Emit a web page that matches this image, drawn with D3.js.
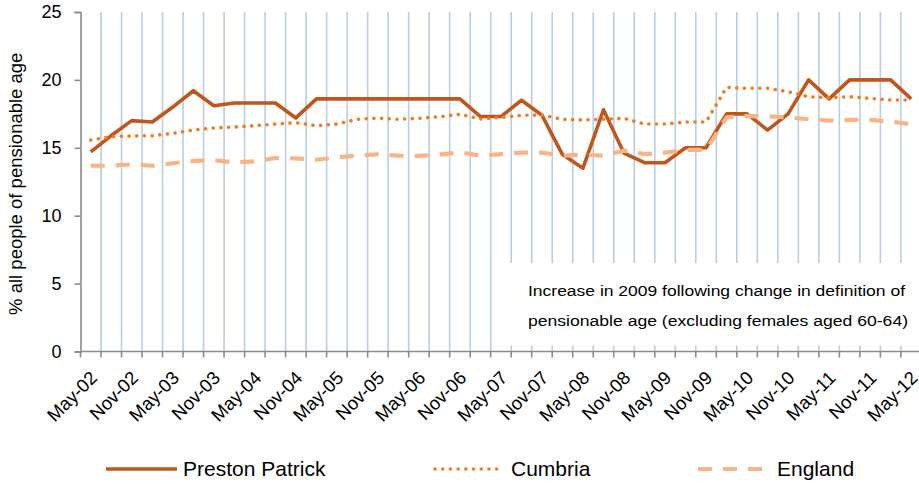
<!DOCTYPE html>
<html>
<head>
<meta charset="utf-8">
<script src="https://cdn.jsdelivr.net/npm/d3@7"></script>
<style>
  html, body { margin: 0; padding: 0; background: #fff; }
  svg { display: block; font-family: "Liberation Sans", Arial, sans-serif; }
</style>
</head>
<body>
<svg id="chart" width="919" height="484"></svg>
<script>
// ---- data ----
const categories = [
  "May-02","Aug-02","Nov-02",
  "Feb-03","May-03","Aug-03","Nov-03",
  "Feb-04","May-04","Aug-04","Nov-04",
  "Feb-05","May-05","Aug-05","Nov-05",
  "Feb-06","May-06","Aug-06","Nov-06",
  "Feb-07","May-07","Aug-07","Nov-07",
  "Feb-08","May-08","Aug-08","Nov-08",
  "Feb-09","May-09","Aug-09","Nov-09",
  "Feb-10","May-10","Aug-10","Nov-10",
  "Feb-11","May-11","Aug-11","Nov-11",
  "Feb-12","May-12"
];
const tickLabels = ["May-02","Nov-02","May-03","Nov-03","May-04","Nov-04","May-05","Nov-05",
  "May-06","Nov-06","May-07","Nov-07","May-08","Nov-08","May-09","Nov-09","May-10","Nov-10",
  "May-11","Nov-11","May-12"];
const prestonPatrick = [14.7, 15.9, 17.0, 16.9, 18.0, 19.2, 18.1, 18.3, 18.3, 18.3, 17.2,
  18.6, 18.6, 18.6, 18.6, 18.6, 18.6, 18.6, 18.6, 17.3, 17.3, 18.5, 17.4, 14.5, 13.5, 17.8,
  14.6, 13.9, 13.9, 15.0, 15.0, 17.5, 17.5, 16.3, 17.5, 20.0, 18.6, 20.0, 20.0, 20.0, 18.6];
const cumbria = [15.57, 15.82, 15.87, 15.89, 16.07, 16.31, 16.46, 16.53, 16.63, 16.75, 16.85,
  16.63, 16.75, 17.1, 17.19, 17.1, 17.17, 17.29, 17.47, 17.12, 17.24, 17.39, 17.41, 17.1,
  17.05, 17.1, 17.17, 16.75, 16.75, 16.9, 16.9, 19.45, 19.38, 19.38, 19.13, 18.76, 18.69,
  18.76, 18.64, 18.52, 18.52];
const england = [13.68, 13.68, 13.78, 13.68, 13.86, 14.03, 14.08, 13.93, 14.0, 14.25, 14.22,
  14.12, 14.3, 14.42, 14.52, 14.42, 14.4, 14.49, 14.67, 14.42, 14.54, 14.64, 14.64, 14.42,
  14.49, 14.42, 14.79, 14.54, 14.64, 14.84, 14.84, 17.24, 17.34, 17.32, 17.24, 17.1, 17.0,
  17.05, 17.05, 16.92, 16.75];
const yTicks = [0, 5, 10, 15, 20, 25];
const seriesNames = ["Preston Patrick", "Cumbria", "England"];
const yTitle = "% all people of pensionable age";
const noteLines = ["Increase in 2009 following change in definition of",
  "pensionable age (excluding females aged 60-64)"];

// ---- chart ----
const svg = d3.select("#chart");
const plotLeft = 80.5, plotRight = 921.4, plotTop = 12, plotBottom = 351.5;
const x = d3.scaleBand().domain(categories).range([plotLeft, plotRight]).padding(0);
const y = d3.scaleLinear().domain([0, 25]).range([plotBottom, plotTop]);
const cx = c => x(c) + x.bandwidth() / 2;

const gridColor = "#b9cde5";
const axisColor = "#8c8c8c";

// vertical gridlines at category boundaries
const bounds = categories.slice(1).map(c => x(c));
svg.append("g").selectAll("line").data(bounds).join("line")
  .attr("x1", d => d).attr("x2", d => d)
  .attr("y1", y(25)).attr("y2", y(0))
  .attr("stroke", gridColor).attr("stroke-width", 1.6);

// white note box (covers gridlines)
svg.append("rect").attr("x", 506).attr("y", 263).attr("width", 420).attr("height", 82.5)
  .attr("fill", "#fff");
const note = svg.append("g").attr("font-size", 15.5).attr("fill", "#000");
noteLines.forEach((t, i) => {
  note.append("text").attr("x", 528).attr("y", 296 + i * 30).text(t)
    .attr("textLength", i === 0 ? 377 : 380).attr("lengthAdjust", "spacingAndGlyphs");
});

// y axis
const yAxis = svg.append("g").attr("transform", `translate(${plotLeft},0)`)
  .call(d3.axisLeft(y).tickValues(yTicks).tickSize(6).tickPadding(13));
yAxis.select(".domain").attr("stroke", axisColor).attr("stroke-width", 1.6);
yAxis.selectAll(".tick line").attr("stroke", axisColor).attr("stroke-width", 1.6);
yAxis.selectAll(".tick text").attr("font-size", 18).attr("fill", "#000")
  .attr("font-family", "Liberation Sans, Arial, sans-serif");

// x axis
const xAxis = svg.append("g").attr("transform", `translate(0,${plotBottom})`);
xAxis.append("line").attr("x1", plotLeft).attr("x2", plotRight).attr("y1", 0).attr("y2", 0)
  .attr("stroke", axisColor).attr("stroke-width", 1.6);
xAxis.selectAll("line.tk").data([plotLeft, ...bounds]).join("line").attr("class", "tk")
  .attr("x1", d => d).attr("x2", d => d).attr("y1", 0).attr("y2", 6)
  .attr("stroke", axisColor).attr("stroke-width", 1.6);
xAxis.selectAll("text").data(tickLabels).join("text")
  .attr("transform", d => `translate(${cx(d) + 3},${23}) rotate(-45)`)
  .attr("text-anchor", "end").attr("dy", "0.35em")
  .attr("font-size", 18.5).attr("fill", "#000").text(d => d);

// y title
svg.append("text").attr("transform", `translate(22,${(plotTop + plotBottom) / 2 + 2}) rotate(-90)`)
  .attr("text-anchor", "middle").attr("font-size", 18.5).attr("fill", "#000").text(yTitle);

// lines
const line = d3.line().x((d, i) => cx(categories[i])).y(d => y(d));
const styles = [
  { color: "#c0561b", width: 3.6, dash: null, cap: "butt" },
  { color: "#f47c20", width: 3.6, dash: "0.1 7.6", cap: "round" },
  { color: "#f9b485", width: 4.2, dash: "14 11", cap: "butt" }
];
const data = [prestonPatrick, cumbria, england];
data.forEach((s, k) => {
  const st = styles[k];
  svg.append("path").datum(s).attr("d", line).attr("fill", "none")
    .attr("stroke", st.color).attr("stroke-width", st.width)
    .attr("stroke-linecap", st.cap).attr("stroke-linejoin", "round")
    .attr("stroke-dasharray", st.dash);
});

// legend
const legendItems = [
  { x1: 106, x2: 177, tx: 183 },
  { x1: 435, x2: 497, tx: 511 },
  { x1: 698, x2: 768, tx: 777 }
];
const lg = svg.append("g");
legendItems.forEach((L, k) => {
  const st = styles[k];
  lg.append("line").attr("x1", L.x1).attr("x2", L.x2).attr("y1", 469).attr("y2", 469)
    .attr("stroke", st.color).attr("stroke-width", st.width)
    .attr("stroke-linecap", st.cap).attr("stroke-dasharray", st.dash);
  lg.append("text").attr("x", L.tx).attr("y", 476).attr("font-size", 21)
    .attr("fill", "#000").text(seriesNames[k]);
});
</script>
</body>
</html>
